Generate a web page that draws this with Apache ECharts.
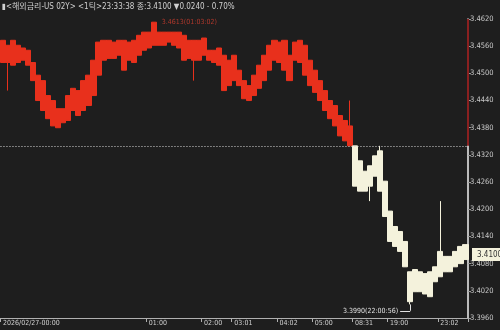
<!DOCTYPE html>
<html><head><meta charset="utf-8">
<script src="https://cdn.jsdelivr.net/npm/echarts@6/dist/echarts.min.js"></script>
<style>html,body{margin:0;padding:0;background:#1e1e1e;}#c{width:500px;height:330px;}</style>
</head><body><div id="c"></div>
<script>
const titleText = '▮<해외금리-US 02Y> <1틱>23:33:38 종:3.4100 ▼0.0240 - 0.70%';
const prevClose = 3.4340;
const lastPrice = 3.4100;
const bodyHigh = [3.4573,3.4562,3.4573,3.4562,3.4556,3.4551,3.4524,3.4496,3.4484,3.4451,
  3.4440,3.4422,3.4422,3.4451,3.4467,3.4462,3.4484,3.4496,3.4529,3.4569,
  3.4573,3.4573,3.4569,3.4573,3.4573,3.4569,3.4573,3.4584,3.4591,3.4591,
  3.4613,3.4591,3.4591,3.4591,3.4591,3.4591,3.4584,3.4573,3.4573,3.4573,
  3.4578,3.4551,3.4551,3.4556,3.4540,3.4529,3.4540,3.4507,3.4484,3.4473,
  3.4496,3.4518,3.4540,3.4562,3.4573,3.4569,3.4573,3.4540,3.4569,3.4573,
  3.4562,3.4529,3.4507,3.4484,3.4462,3.4440,3.4429,3.4407,3.4396,3.4384,
  3.4340,3.4307,3.4284,3.4296,3.4318,3.4329,3.4262,3.4196,3.4162,3.4151,
  3.4129,3.4062,3.4067,3.4062,3.4058,3.4062,3.4073,3.4107,3.4096,3.4096,
  3.4107,3.4118,3.4122];
const bodyLow = [3.4524,3.4524,3.4518,3.4524,3.4529,3.4518,3.4484,3.4440,3.4418,3.4400,
  3.4384,3.4380,3.4391,3.4396,3.4418,3.4407,3.4418,3.4429,3.4451,3.4496,
  3.4529,3.4533,3.4533,3.4540,3.4507,3.4529,3.4524,3.4540,3.4551,3.4556,
  3.4562,3.4562,3.4562,3.4569,3.4562,3.4556,3.4529,3.4533,3.4529,3.4529,
  3.4540,3.4529,3.4524,3.4518,3.4462,3.4473,3.4484,3.4473,3.4444,3.4440,
  3.4451,3.4467,3.4484,3.4507,3.4529,3.4524,3.4507,3.4484,3.4529,3.4524,
  3.4496,3.4473,3.4458,3.4440,3.4418,3.4400,3.4384,3.4362,3.4351,3.4340,
  3.4251,3.4240,3.4240,3.4251,3.4273,3.4240,3.4184,3.4129,3.4118,3.4107,
  3.4073,3.3996,3.4018,3.4018,3.4013,3.4007,3.4040,3.4051,3.4062,3.4062,
  3.4073,3.4080,3.4089];
const spikeHigh = {69: 3.4440, 75: 3.4340, 87: 3.4218};
const spikeLow = {1: 3.4462, 38: 3.4484, 73: 3.4218, 81: 3.3990};
const tickIndex = [0, 29, 40, 46, 55, 62, 70, 77, 87];
const tickText = ['2026/02/27-00:00','01:00','02:00','03:01','04:02','05:00','08:31','19:00','23:02'];
const yMin = 3.396, yMax = 3.462, yStep = 0.006;
const maxIdx = 30, maxVal = 3.4613, maxText = '3.4613(01:03:02)';
const minIdx = 81, minVal = 3.3990, minText = '3.3990(22:00:56)';
const minLabelVal = 3.3976;

const RED = '#e8301c', WHITE = '#f4f2dc';
const cats = bodyHigh.map((_, i) => String(i));
const data = bodyHigh.map((h, i) => {
  const l = bodyLow[i];
  const hi = spikeHigh[i] !== undefined ? spikeHigh[i] : h;
  const lo = spikeLow[i] !== undefined ? spikeLow[i] : l;
  const col = h > prevClose ? RED : WHITE;
  return { value: [l, h, lo, hi], itemStyle: { color: col, borderColor: col, color0: col, borderColor0: col } };
});
const font = '"Liberation Sans Narrow", "DejaVu Sans Condensed", "Noto Sans CJK KR", sans-serif';
const isTick = (i) => tickIndex.indexOf(Number(i)) >= 0;

const chart = echarts.init(document.getElementById('c'), null, { renderer: 'canvas' });
chart.setOption({
  backgroundColor: '#1e1e1e',
  animation: false,
  grid: { left: 0, right: 32, top: 19, bottom: 12, containLabel: false },
  xAxis: {
    type: 'category', data: cats, boundaryGap: true,
    axisLine: { lineStyle: { color: '#b0b0b0', width: 1 } },
    axisTick: { show: true, length: 4, interval: (i) => isTick(i), lineStyle: { color: '#b0b0b0' } },
    axisLabel: { interval: (i) => isTick(i), align: 'left', margin: 2, fontSize: 7, color: '#cfcfcf', fontFamily: font,
      formatter: (v) => { const k = tickIndex.indexOf(Number(v)); return k >= 0 ? tickText[k] : ''; } },
    splitLine: { show: false }
  },
  yAxis: {
    type: 'value', position: 'right', min: yMin, max: yMax, interval: yStep,
    axisLine: { show: true, lineStyle: { color: '#f0f0f0', width: 1.5 } },
    axisTick: { show: true, length: 3, lineStyle: { color: '#999' } },
    axisLabel: { fontSize: 7.5, color: '#c8c8c8', margin: 2, fontFamily: font, formatter: (v) => v.toFixed(4) },
    splitLine: { show: false }
  },
  series: [{
    type: 'candlestick', data: data, barWidth: 5.6, z: 2,
    itemStyle: { borderWidth: 1 }
  }, {
    type: 'line', data: cats.map(() => null), symbol: 'none', silent: true, z: 5,
    lineStyle: { opacity: 0 },
    markLine: {
      silent: true, symbol: ['none', 'none'], animation: false, precision: 4,
      data: [
        { yAxis: prevClose, lineStyle: { color: '#d8d8d8', type: [1, 2], width: 1 }, label: { show: false } },
        { yAxis: lastPrice, lineStyle: { color: 'rgba(0,0,0,0)' },
          label: { show: true, position: 'end', distance: 4, formatter: '3.4100', backgroundColor: WHITE, color: '#333',
                   fontSize: 8, fontFamily: font, padding: [3, 5, 2, 5] } },
        [ { coord: [String(minIdx), minVal], lineStyle: { color: '#e0e0e0', width: 1, type: 'solid' }, label: { show: false } },
          { coord: [String(minIdx), minLabelVal] } ],
        [ { coord: [String(minIdx), minLabelVal], lineStyle: { color: '#e0e0e0', width: 1, type: 'solid' }, label: { show: false } },
          { coord: [String(minIdx - 2), minLabelVal] } ]
      ]
    },
    markPoint: {
      silent: true, symbol: 'circle', symbolSize: 0, animation: false, precision: 4, z: 10,
      data: [
        { coord: [String(maxIdx), maxVal], label: { show: true, position: 'right', distance: 8, formatter: maxText,
          color: '#b0382c', fontSize: 7, fontFamily: font } },
        { coord: [String(minIdx - 2), minLabelVal], label: { show: true, position: 'left', distance: 2, formatter: minText,
          color: '#e0e0e0', fontSize: 7, fontFamily: font } }
      ]
    }
  }]
});

const rect = chart.getModel().getComponent('grid').coordinateSystem.getRect();
const yTop = chart.convertToPixel({ yAxisIndex: 0 }, yMax);
const yRef = chart.convertToPixel({ yAxisIndex: 0 }, prevClose);
chart.setOption({
  graphic: [
    { type: 'line', shape: { x1: rect.x + rect.width, y1: yTop, x2: rect.x + rect.width, y2: yRef },
      style: { stroke: '#8a2020', lineWidth: 2 }, z: 100 },
    { type: 'text', left: 2, top: 3, style: { text: titleText, fill: '#d0d0d0', fontSize: 8, fontFamily: font } }
  ]
});
</script></body></html>
